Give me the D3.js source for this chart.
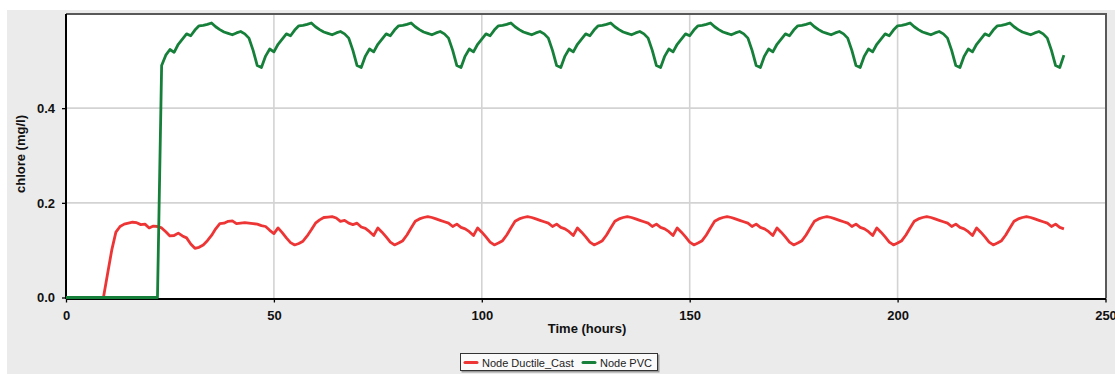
<!DOCTYPE html>
<html>
<head>
<meta charset="utf-8">
<script src="https://cdn.jsdelivr.net/npm/d3@7"></script>
<style>
  html, body { margin: 0; padding: 0; background: #ffffff; }
  svg { display: block; }
</style>
</head>
<body>
<svg id="chart" width="1115" height="374"></svg>
<script>
// Hourly simulation time steps, 0 to 240 h
const hours = d3.range(0, 241);

// Chlorine at node Ductile_Cast (mg/l), one value per hour
const ductileCast = [
  0, 0, 0, 0, 0, 0, 0, 0, 0, 0, 0.050, 0.100, 0.138, 0.150, 0.155, 0.157, 0.159, 0.158, 0.154, 0.155, 0.147, 0.151, 0.150, 0.147,
  0.139, 0.130, 0.131, 0.136, 0.130, 0.126, 0.113, 0.104, 0.106, 0.111, 0.120, 0.131, 0.145, 0.156, 0.157, 0.161, 0.162, 0.156, 0.157, 0.158, 0.157, 0.156, 0.155, 0.152,
  0.150, 0.142, 0.135, 0.147, 0.137, 0.126, 0.116, 0.111, 0.114, 0.119, 0.130, 0.143, 0.157, 0.164, 0.169, 0.170, 0.171, 0.168, 0.161, 0.163, 0.157, 0.154, 0.157, 0.149,
  0.146, 0.139, 0.131, 0.147, 0.138, 0.128, 0.117, 0.111, 0.115, 0.120, 0.132, 0.147, 0.161, 0.166, 0.169, 0.171, 0.169, 0.166, 0.163, 0.160, 0.157, 0.150, 0.155, 0.148,
  0.145, 0.139, 0.131, 0.147, 0.138, 0.128, 0.117, 0.111, 0.115, 0.120, 0.132, 0.147, 0.161, 0.166, 0.169, 0.171, 0.169, 0.166, 0.163, 0.160, 0.157, 0.150, 0.155, 0.148,
  0.145, 0.139, 0.131, 0.147, 0.138, 0.128, 0.117, 0.111, 0.115, 0.120, 0.132, 0.147, 0.161, 0.166, 0.169, 0.171, 0.169, 0.166, 0.163, 0.160, 0.157, 0.150, 0.155, 0.148,
  0.145, 0.139, 0.131, 0.147, 0.138, 0.128, 0.117, 0.111, 0.115, 0.120, 0.132, 0.147, 0.161, 0.166, 0.169, 0.171, 0.169, 0.166, 0.163, 0.160, 0.157, 0.150, 0.155, 0.148,
  0.145, 0.139, 0.131, 0.147, 0.138, 0.128, 0.117, 0.111, 0.115, 0.120, 0.132, 0.147, 0.161, 0.166, 0.169, 0.171, 0.169, 0.166, 0.163, 0.160, 0.157, 0.150, 0.155, 0.148,
  0.145, 0.139, 0.131, 0.147, 0.138, 0.128, 0.117, 0.111, 0.115, 0.120, 0.132, 0.147, 0.161, 0.166, 0.169, 0.171, 0.169, 0.166, 0.163, 0.160, 0.157, 0.150, 0.155, 0.148,
  0.145, 0.139, 0.131, 0.147, 0.138, 0.128, 0.117, 0.111, 0.115, 0.120, 0.132, 0.147, 0.161, 0.166, 0.169, 0.171, 0.169, 0.166, 0.163, 0.160, 0.157, 0.150, 0.155, 0.148,
  0.145
];

// Chlorine at node PVC (mg/l), one value per hour
const pvc = [
  0, 0, 0, 0, 0, 0, 0, 0, 0, 0, 0, 0, 0, 0, 0, 0, 0, 0, 0, 0, 0, 0, 0, 0.490,
  0.512, 0.524, 0.518, 0.535, 0.546, 0.557, 0.553, 0.565, 0.574, 0.575, 0.577, 0.580, 0.572, 0.566, 0.561, 0.558, 0.555, 0.559, 0.562, 0.557, 0.548, 0.522, 0.490, 0.486,
  0.510, 0.525, 0.519, 0.535, 0.546, 0.557, 0.553, 0.565, 0.574, 0.575, 0.577, 0.580, 0.572, 0.566, 0.561, 0.558, 0.555, 0.559, 0.562, 0.557, 0.548, 0.522, 0.490, 0.486,
  0.510, 0.525, 0.519, 0.535, 0.546, 0.557, 0.553, 0.565, 0.574, 0.575, 0.577, 0.580, 0.572, 0.566, 0.561, 0.558, 0.555, 0.559, 0.562, 0.557, 0.548, 0.522, 0.490, 0.486,
  0.510, 0.525, 0.519, 0.535, 0.546, 0.557, 0.553, 0.565, 0.574, 0.575, 0.577, 0.580, 0.572, 0.566, 0.561, 0.558, 0.555, 0.559, 0.562, 0.557, 0.548, 0.522, 0.490, 0.486,
  0.510, 0.525, 0.519, 0.535, 0.546, 0.557, 0.553, 0.565, 0.574, 0.575, 0.577, 0.580, 0.572, 0.566, 0.561, 0.558, 0.555, 0.559, 0.562, 0.557, 0.548, 0.522, 0.490, 0.486,
  0.510, 0.525, 0.519, 0.535, 0.546, 0.557, 0.553, 0.565, 0.574, 0.575, 0.577, 0.580, 0.572, 0.566, 0.561, 0.558, 0.555, 0.559, 0.562, 0.557, 0.548, 0.522, 0.490, 0.486,
  0.510, 0.525, 0.519, 0.535, 0.546, 0.557, 0.553, 0.565, 0.574, 0.575, 0.577, 0.580, 0.572, 0.566, 0.561, 0.558, 0.555, 0.559, 0.562, 0.557, 0.548, 0.522, 0.490, 0.486,
  0.510, 0.525, 0.519, 0.535, 0.546, 0.557, 0.553, 0.565, 0.574, 0.575, 0.577, 0.580, 0.572, 0.566, 0.561, 0.558, 0.555, 0.559, 0.562, 0.557, 0.548, 0.522, 0.490, 0.486,
  0.510, 0.525, 0.519, 0.535, 0.546, 0.557, 0.553, 0.565, 0.574, 0.575, 0.577, 0.580, 0.572, 0.566, 0.561, 0.558, 0.555, 0.559, 0.562, 0.557, 0.548, 0.522, 0.490, 0.486,
  0.512
];

const xTicks = [0, 50, 100, 150, 200, 250];
const yTicks = [0, 0.2, 0.4];
const xGrid = [50, 100, 150, 200];
const yGrid = [0.2, 0.4];
const seriesNames = ["Node Ductile_Cast", "Node PVC"];
const seriesColors = ["#ee3535", "#16803a"];
const xTitle = "Time (hours)";
const yTitle = "chlore (mg/l)";

const FONT = "'Liberation Sans', Arial, sans-serif";

const svg = d3.select("#chart");

// Window panel behind the plot
svg.append("rect")
  .attr("x", 7).attr("y", 10).attr("width", 1108).attr("height", 364)
  .attr("fill", "#ebebeb");

const plotLeft = 66, plotRight = 1106, plotTop = 14, plotBottom = 298;

const x = d3.scaleLinear().domain([0, 250]).range([plotLeft, 1105.5]);
const y = d3.scaleLinear().domain([0, 0.6]).range([297.5, 13.5]);

// Plot area
svg.append("rect")
  .attr("x", plotLeft).attr("y", plotTop)
  .attr("width", plotRight - plotLeft).attr("height", plotBottom - plotTop)
  .attr("fill", "#ffffff");

// Grid lines
svg.append("g").selectAll("line").data(xGrid).join("line")
  .attr("x1", d => x(d)).attr("x2", d => x(d))
  .attr("y1", plotTop).attr("y2", plotBottom)
  .attr("stroke", "#d3d3d3").attr("stroke-width", 1.6);
svg.append("g").selectAll("line").data(yGrid).join("line")
  .attr("x1", plotLeft).attr("x2", plotRight)
  .attr("y1", d => y(d)).attr("y2", d => y(d))
  .attr("stroke", "#d3d3d3").attr("stroke-width", 1.6);

// Frame: top and right edges
svg.append("line").attr("x1", plotLeft).attr("x2", plotRight + 1).attr("y1", plotTop).attr("y2", plotTop)
  .attr("stroke", "#595959").attr("stroke-width", 2);
svg.append("line").attr("x1", plotRight).attr("x2", plotRight).attr("y1", plotTop).attr("y2", plotBottom)
  .attr("stroke", "#595959").attr("stroke-width", 2);

// Axes
const xAxis = svg.append("g")
  .attr("transform", "translate(0,298.5)")
  .call(d3.axisBottom(x).tickValues(xTicks).tickSize(4).tickPadding(8).tickSizeOuter(0)
    .tickFormat(d3.format("d")));
const yAxis = svg.append("g")
  .attr("transform", "translate(66,0)")
  .call(d3.axisLeft(y).tickValues(yTicks).tickSize(4).tickPadding(7).tickSizeOuter(0)
    .tickFormat(d3.format(".1f")));

[xAxis, yAxis].forEach(g => {
  g.select(".domain").attr("stroke", "#000").attr("stroke-width", 2);
  g.selectAll(".tick line").attr("stroke", "#000").attr("stroke-width", 1.3);
  g.selectAll(".tick text")
    .attr("fill", "#111")
    .style("font-family", FONT).style("font-size", "13px").style("font-weight", "bold");
});
yAxis.select(".domain").attr("d", `M0,${plotTop}V${plotBottom + 1}`);

// Series lines
const line = d3.line()
  .x((d, i) => x(hours[i]))
  .y(d => y(d));

[ductileCast, pvc].forEach((series, k) => {
  svg.append("path")
    .datum(series)
    .attr("fill", "none")
    .attr("stroke", seriesColors[k])
    .attr("stroke-width", 2.8)
    .attr("stroke-linejoin", "round")
    .attr("d", line);
});

// Axis titles
svg.append("text")
  .attr("x", 587).attr("y", 333)
  .attr("text-anchor", "middle")
  .style("font-family", FONT).style("font-size", "13px").style("font-weight", "bold")
  .attr("fill", "#111")
  .text(xTitle);

svg.append("text")
  .attr("transform", "translate(25,154) rotate(-90)")
  .attr("text-anchor", "middle")
  .style("font-family", FONT).style("font-size", "13px").style("font-weight", "bold")
  .attr("fill", "#111")
  .text(yTitle);

// Legend
const legend = svg.append("g");
legend.append("rect")
  .attr("x", 461.5).attr("y", 354.5).attr("width", 198).attr("height", 18)
  .attr("fill", "#9a9a9a");
legend.append("rect")
  .attr("x", 460.5).attr("y", 353.5).attr("width", 197).attr("height", 17)
  .attr("fill", "#fafafa").attr("stroke", "#333").attr("stroke-width", 1);

const legendItems = [
  { sx: 465, tx: 482 },
  { sx: 583, tx: 600 }
];
legendItems.forEach((it, k) => {
  legend.append("line")
    .attr("x1", it.sx).attr("x2", it.sx + 12)
    .attr("y1", 362.5).attr("y2", 362.5)
    .attr("stroke", seriesColors[k]).attr("stroke-width", 3).attr("stroke-linecap", "round");
  legend.append("text")
    .attr("x", it.tx).attr("y", 366.5)
    .style("font-family", FONT).style("font-size", "11px")
    .attr("fill", "#222")
    .text(seriesNames[k]);
});
</script>
</body>
</html>
